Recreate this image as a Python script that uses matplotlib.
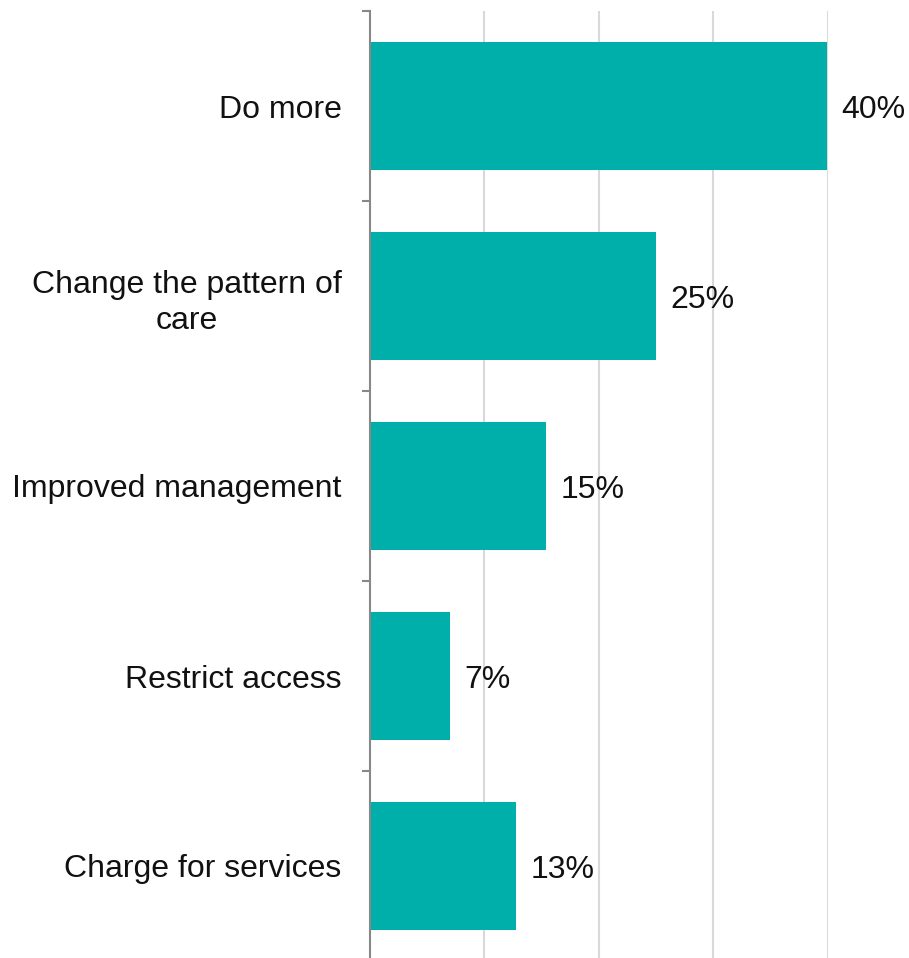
import matplotlib.pyplot as plt
from matplotlib.ticker import FixedLocator

categories = ["Do more", "Change the pattern of\ncare", "Improved management",
              "Restrict access", "Charge for services"]
values = [39.9, 25.0, 15.4, 7.0, 12.8]
labels = ["40%", "25%", "15%", "7%", "13%"]

bar_color = "#00AFA9"
text_color = "#111111"

plt.rcParams['font.family'] = ['Liberation Sans', 'DejaVu Sans']

fig = plt.figure(figsize=(9.09, 9.58), dpi=100)
# axes: x 0..40 maps to px 369.5..828, y from px 11 to 961
ax = fig.add_axes([369.5 / 909, (958 - 961) / 958, (828 - 369.5) / 909, 950 / 958])

y = list(range(len(categories)))
ax.barh(y, values, height=0.67, color=bar_color, zorder=2)

for yi, v, lab in zip(y, values, labels):
    ax.text(v + 1.25, yi, lab, va="center_baseline", ha="left", fontsize=23,
            color=text_color, clip_on=False)

ax.set_xlim(0, 40)
ax.set_ylim(len(categories) - 0.5, -0.5)

ax.set_xticks([10, 20, 30, 40])
ax.tick_params(axis="x", length=0, labelbottom=False)
ax.grid(axis="x", color="#D9D9D9", linewidth=1.5, zorder=0)

ax.set_yticks(y)
ax.set_yticklabels(categories, fontsize=23, color=text_color,
                   multialignment="center", linespacing=1.3)
ax.yaxis.set_minor_locator(FixedLocator([i - 0.5 for i in range(len(categories) + 1)]))
ax.tick_params(axis="y", which="major", length=0, pad=20)
ax.tick_params(axis="y", which="minor", length=6, width=1.5, color="#888888")

for s in ["top", "right", "bottom"]:
    ax.spines[s].set_visible(False)
ax.spines["left"].set_color("#888888")
ax.spines["left"].set_linewidth(1.5)

fig.savefig("out.png", dpi=100)
